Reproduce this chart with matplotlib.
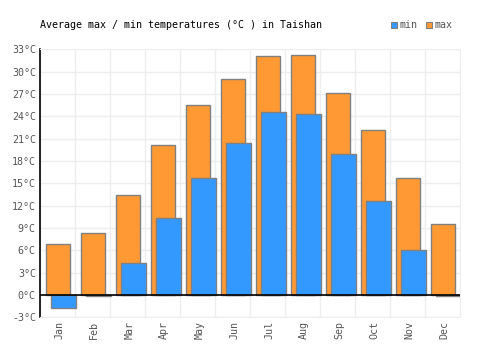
import numpy as np
import matplotlib.pyplot as plt

# Monthly averages for Taishan
months = ["Jan", "Feb", "Mar", "Apr", "May", "Jun",
          "Jul", "Aug", "Sep", "Oct", "Nov", "Dec"]
t_max = [6.8, 8.3, 13.4, 20.2, 25.5, 29.0, 32.1, 32.3, 27.1, 22.1, 15.7, 9.5]
t_min = [-1.7, -0.1, 4.3, 10.4, 15.7, 20.4, 24.6, 24.3, 18.9, 12.6, 6.0, -0.1]
y_ticks = list(range(-3, 34, 3))

mono = "DejaVu Sans Mono"
fs = 7.2
orange = "#ff9933"
blue = "#3399ff"
edge = "#808080"
grid = "#eeeeee"
txt = "#555555"

fig = plt.figure(figsize=(5, 3.5), dpi=100)
ax = fig.add_axes([0.08, 0.0934, 0.84, 0.7656])

x = np.arange(len(months))
ax.bar(x + 0.015, t_max, width=0.67, color=orange, edgecolor=edge, linewidth=1, zorder=2)
ax.bar(x + 0.165, t_min, width=0.70, color=blue, edgecolor=edge, linewidth=1, zorder=3)
ax.axhline(0, color="black", linewidth=1.2, zorder=4)

ax.set_xlim(-0.5, 11.5)
ax.set_ylim(-3, 33)

# Grid: horizontal every 3 degrees, vertical at category borders
ax.set_yticks(y_ticks)
ax.set_yticklabels([f"{v}°C" for v in y_ticks], fontfamily=mono, fontsize=fs, color=txt)
ax.set_xticks(x + 0.05)
ax.set_xticklabels(months, rotation=90, fontfamily=mono, fontsize=fs, color=txt)
ax.set_xticks(np.arange(-0.5, 12, 1), minor=True)
ax.grid(axis="y", color=grid, linewidth=1, zorder=0)
ax.grid(axis="x", which="minor", color=grid, linewidth=1, zorder=0)
ax.set_axisbelow(True)
ax.tick_params(axis="both", which="both", length=0, pad=3)

for s in ["top", "right", "bottom"]:
    ax.spines[s].set_color(grid)
ax.spines["left"].set_color("black")
ax.spines["left"].set_linewidth(1.2)

fig.text(0.08, 0.928, "Average max / min temperatures (°C ) in Taishan",
         fontfamily=mono, fontsize=fs, color="black", va="center")

# Legend drawn by hand in the top right corner
lx, ly = 0.782, 0.928
for col, lab, off in [(blue, "min", 0.0), (orange, "max", 0.07)]:
    fig.patches.append(plt.Rectangle((lx + off, ly - 0.0085), 0.012, 0.017, transform=fig.transFigure,
                                     facecolor=col, edgecolor=edge, linewidth=0.8))
    fig.text(lx + off + 0.017, ly, lab, fontfamily=mono, fontsize=fs, color=txt, va="center")

plt.savefig("out.png", dpi=100)
